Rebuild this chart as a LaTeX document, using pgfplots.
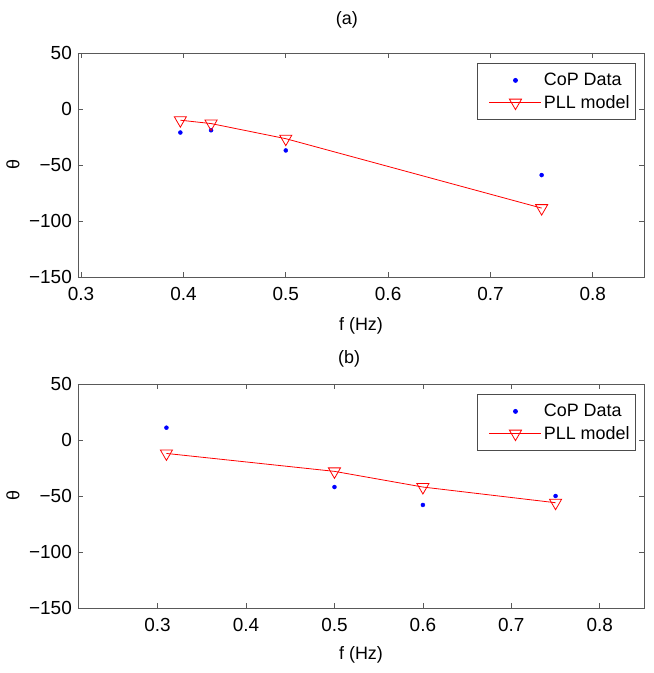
\documentclass[border=0pt]{standalone}
\usepackage{fontspec}
\setmainfont{Liberation Sans}
\usepackage{pgfplots}
\pgfplotsset{compat=1.18}
\pgfplotsset{
  myax/.style={
    scale only axis, width=566bp, height=224bp,
    ymin=-150, ymax=50, xmax=0.85,
    ytick={-150,-100,-50,0,50}, yticklabels={−150,−100,−50,0,50},
    tick align=inside, major tick length=5bp,
    axis line style={draw=black!65, line width=0.8bp},
    every tick/.style={black!65, line width=0.8bp},
    tick label style={font=\fontsize{19}{22}\selectfont, text=black, inner sep=0pt},
    xticklabel style={anchor=north, yshift=-10bp},
    yticklabel style={anchor=east, xshift=-6bp},
    /pgf/number format/assume math mode=true,
    label style={font=\fontsize{18}{21}\selectfont},
    title style={font=\fontsize{18}{21}\selectfont, anchor=center},
    ylabel={θ},
    ylabel style={at={(axis description cs:-0.115,0.5)}, anchor=center, rotate=0},
    legend style={at={(1,1)}, anchor=north east, xshift=-8bp, yshift=-10bp,
      draw=black!70, line width=0.8bp, font=\fontsize{18}{21}\selectfont,
      inner xsep=4bp, inner ysep=8bp, row sep=4bp},
    legend cell align=left,
  },
  cop/.style={only marks, mark=*, mark size=2bp, color=blue,
    legend image code/.code={\path[draw=none] (-8bp,0bp) -- (52bp,0bp); \draw[##1] plot[only marks] coordinates {(26bp,0bp)};}},
  pll/.style={color=red, line width=0.8bp, mark=triangle, mark size=7bp,
    mark options={rotate=180, solid, fill=none},
    legend image code/.code={\path[draw=none] (-8bp,0bp) -- (52bp,0bp); \draw[##1, mark repeat=2, mark phase=2] plot coordinates {(0bp,0bp) (26bp,0bp) (52bp,0bp)};}},
}
\begin{document}
\begin{tikzpicture}
\useasboundingbox (-78bp,-396bp) rectangle (576bp,277bp);
\begin{axis}[myax, at={(0bp,0bp)}, anchor=south west,
  xmin=0.297,
  xtick={0.3,0.4,0.5,0.6,0.7,0.8}, xticklabels={0.3,0.4,0.5,0.6,0.7,0.8},
  title={(a)}, title style={at={(axis description cs:0.475,1.12)}},
  xlabel={f (Hz)}, xlabel style={at={(axis description cs:0.5,-0.218)}, anchor=center}]
\addplot[cop] coordinates {(0.397,-21) (0.427,-19) (0.5,-37) (0.75,-59)};
\addlegendentry{CoP Data}
\addplot[pll] coordinates {(0.397,-10) (0.427,-13) (0.5,-26.5) (0.75,-88.5)};
\addlegendentry{PLL model}
\end{axis}
\begin{axis}[myax, at={(0bp,-331bp)}, anchor=south west,
  xmin=0.21,
  xtick={0.3,0.4,0.5,0.6,0.7,0.8}, xticklabels={0.3,0.4,0.5,0.6,0.7,0.8},
  title={(b)}, title style={at={(axis description cs:0.479,1.085)}},
  xlabel={f (Hz)}, xlabel style={at={(axis description cs:0.5,-0.21)}, anchor=center}]
\addplot[cop] coordinates {(0.31,11) (0.5,-42) (0.6,-58) (0.75,-50)};
\addlegendentry{CoP Data}
\addplot[pll] coordinates {(0.31,-12) (0.5,-28) (0.6,-42) (0.75,-56)};
\addlegendentry{PLL model}
\end{axis}
\end{tikzpicture}
\end{document}
